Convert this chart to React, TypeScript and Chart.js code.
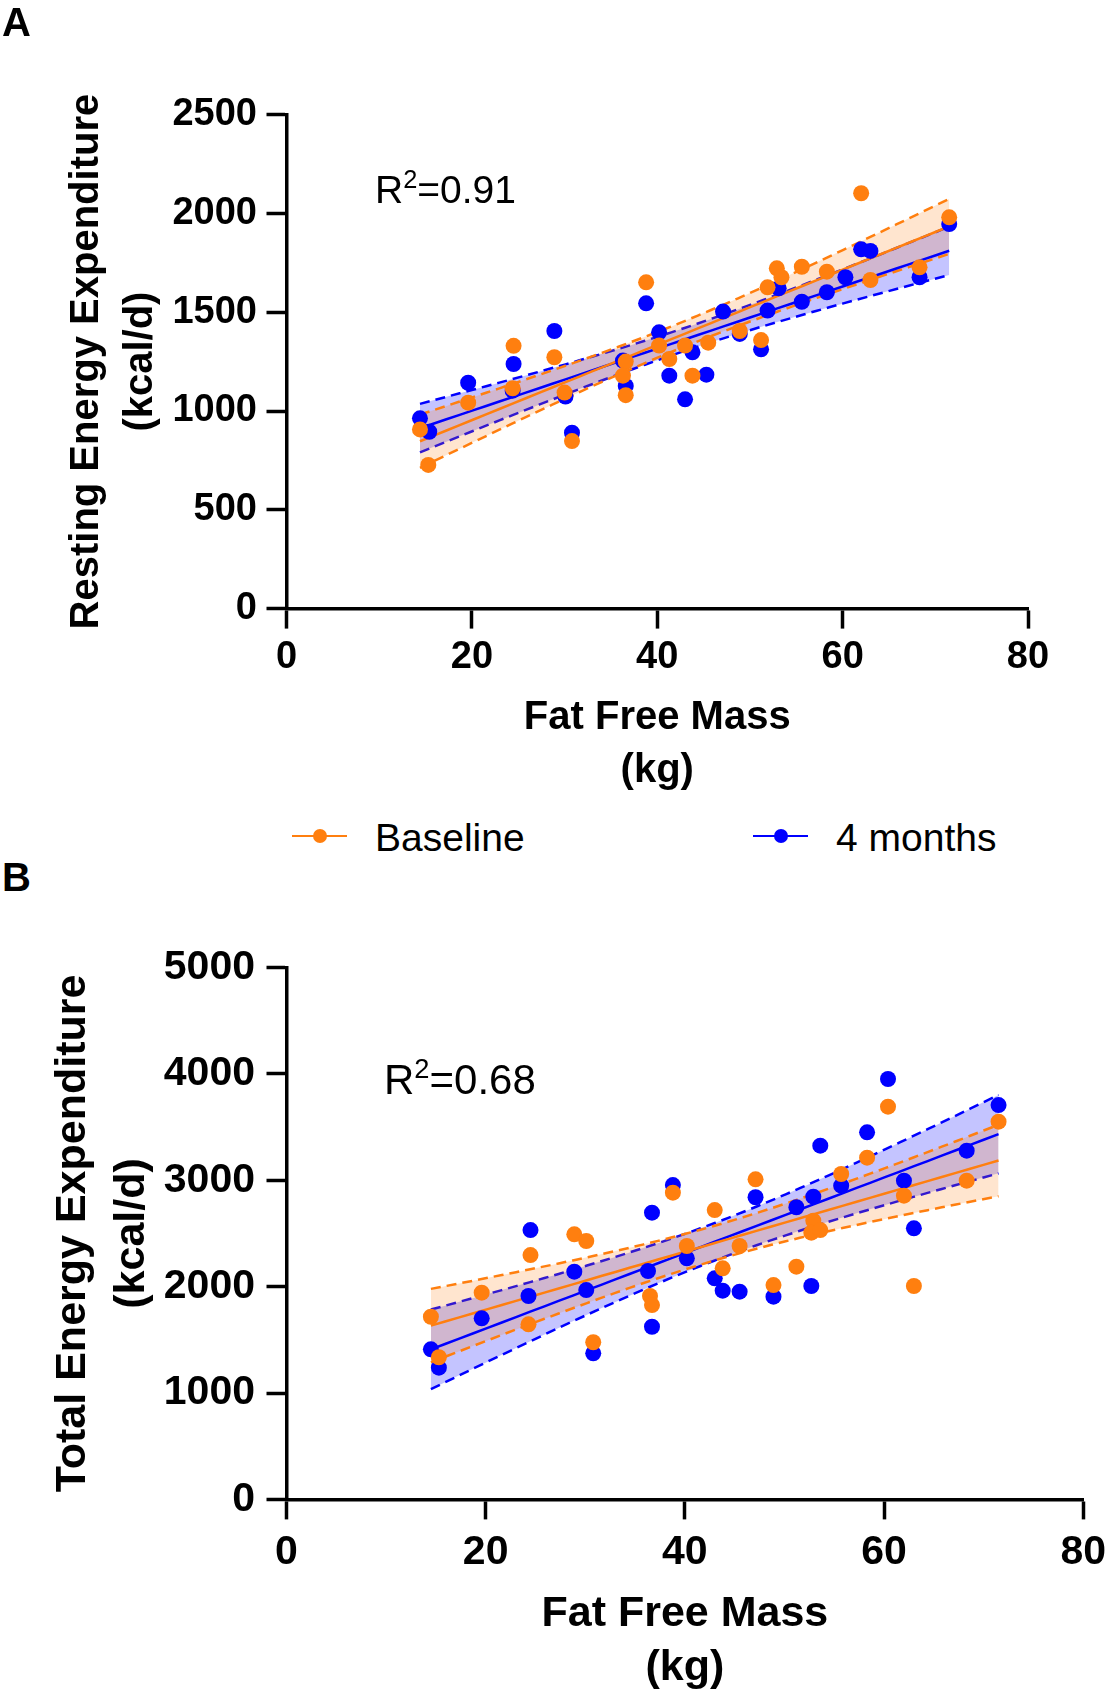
import React, { useEffect, useRef } from "react";
import { Chart, registerables } from "chart.js";

Chart.register(...registerables);

const FONT = '"Liberation Sans", Arial, Helvetica, sans-serif';
const ORANGE = "#FF7F0F";
const BLUE = "#0000FF";
const ORANGE_FILL = "rgba(255,127,15,0.2)";
const BLUE_FILL = "rgba(0,0,255,0.23)";
const T95 = 2.05;

// ---------- Panel A: Resting Energy Expenditure ----------
const reeBaselineFFM = [14.4, 15.3, 19.6, 24.5, 24.4, 28.9, 30.0, 30.8, 36.6, 36.3, 36.6, 38.8, 40.2, 41.3, 43.0, 43.8, 45.5, 48.9, 51.2, 51.9, 52.9, 53.4, 55.6, 58.3, 62.0, 63.0, 68.3, 71.5];
const reeBaselineValues = [907, 727, 1042, 1330, 1115, 1272, 1093, 848, 1250, 1179, 1080, 1651, 1331, 1263, 1331, 1179, 1346, 1405, 1359, 1626, 1722, 1677, 1730, 1705, 2102, 1663, 1727, 1980];
const reeMonth4FFM = [14.4, 15.4, 19.6, 24.5, 24.4, 28.9, 30.1, 30.8, 36.3, 36.6, 38.8, 40.2, 41.3, 43.0, 43.8, 45.3, 47.1, 48.9, 51.2, 51.9, 53.1, 55.6, 58.3, 60.3, 62.0, 63.0, 68.3, 71.5];
const reeMonth4Values = [963, 895, 1143, 1238, 1103, 1405, 1073, 890, 1255, 1127, 1545, 1398, 1179, 1059, 1297, 1184, 1503, 1390, 1312, 1508, 1621, 1553, 1601, 1677, 1818, 1810, 1677, 1946];
const reeYTicks = { min: 0, max: 2500, step: 500 };

// ---------- Panel B: Total Energy Expenditure ----------
const teeBaselineFFM = [14.5, 15.3, 19.6, 24.5, 24.3, 28.9, 30.1, 30.8, 36.5, 36.7, 38.8, 40.2, 43.0, 43.8, 45.5, 47.1, 48.9, 51.2, 52.9, 52.7, 53.6, 55.7, 58.3, 60.4, 62.0, 63.0, 68.3, 71.5];
const teeBaselineValues = [1717, 1336, 1943, 2297, 1646, 2492, 2429, 1477, 1912, 1827, 2883, 2382, 2720, 2172, 2382, 3009, 2015, 2188, 2620, 2507, 2532, 3059, 3212, 3692, 2855, 2006, 2996, 3551];
const teeMonth4FFM = [14.5, 15.3, 19.6, 24.5, 24.3, 28.9, 30.1, 30.8, 36.7, 36.3, 36.7, 38.8, 40.2, 43.0, 43.8, 45.5, 47.1, 48.9, 51.2, 52.7, 52.9, 53.6, 55.7, 58.3, 60.4, 62.0, 63.0, 68.3, 71.5];
const teeMonth4Values = [1411, 1238, 1702, 2532, 1912, 2141, 1968, 1373, 2695, 2147, 1623, 2955, 2266, 2078, 1962, 1953, 2840, 1906, 2746, 2006, 2846, 3325, 2949, 3451, 3952, 2996, 2548, 3278, 3707];
const teeYTicks = { min: 0, max: 5000, step: 1000 };

const xTicks = { min: 0, max: 80, step: 20 };
const seriesNames = ["Baseline", "4 months"];

type Pt = { x: number; y: number };

function toPoints(xs: number[], ys: number[]): Pt[] {
  return xs.map((x, i) => ({ x, y: ys[i] }));
}

function regression(xs: number[], ys: number[]) {
  const n = xs.length;
  const mx = xs.reduce((a, b) => a + b, 0) / n;
  const my = ys.reduce((a, b) => a + b, 0) / n;
  let sxx = 0, sxy = 0;
  for (let i = 0; i < n; i++) {
    sxx += (xs[i] - mx) ** 2;
    sxy += (xs[i] - mx) * (ys[i] - my);
  }
  const b = sxy / sxx;
  const a = my - b * mx;
  let sse = 0;
  for (let i = 0; i < n; i++) sse += (ys[i] - (a + b * xs[i])) ** 2;
  const s = Math.sqrt(sse / (n - 2));
  const xmin = Math.min(...xs), xmax = Math.max(...xs);
  const steps = 40;
  const line: Pt[] = [], upper: Pt[] = [], lower: Pt[] = [];
  for (let k = 0; k <= steps; k++) {
    const x = xmin + ((xmax - xmin) * k) / steps;
    const yh = a + b * x;
    const se = s * Math.sqrt(1 / n + (x - mx) ** 2 / sxx);
    line.push({ x, y: yh });
    upper.push({ x, y: yh + T95 * se });
    lower.push({ x, y: yh - T95 * se });
  }
  return { line, upper, lower };
}

function buildDatasets(bx: number[], by: number[], mx: number[], my: number[]) {
  const rb = regression(bx, by);
  const rm = regression(mx, my);
  const scatter = (label: string, data: Pt[], color: string) => ({
    label, data, showLine: false, pointRadius: 8, pointHoverRadius: 8,
    pointBackgroundColor: color, pointBorderWidth: 0, borderColor: color, backgroundColor: color,
  });
  const solid = (data: Pt[], color: string) => ({
    label: "fit", data, showLine: true, pointRadius: 0, borderColor: color, borderWidth: 2.5, fill: false,
  });
  const dashed = (data: Pt[], color: string, fill: any, fillColor: string) => ({
    label: "ci", data, showLine: true, pointRadius: 0, borderColor: color, borderWidth: 2.5,
    borderDash: [10, 6], fill, backgroundColor: fillColor,
  });
  return [
    scatter(seriesNames[0], toPoints(bx, by), ORANGE),
    scatter(seriesNames[1], toPoints(mx, my), BLUE),
    solid(rb.line, ORANGE),
    solid(rm.line, BLUE),
    dashed(rb.upper, ORANGE, "+1", ORANGE_FILL),
    dashed(rb.lower, ORANGE, false, ORANGE_FILL),
    dashed(rm.upper, BLUE, "+1", BLUE_FILL),
    dashed(rm.lower, BLUE, false, BLUE_FILL),
  ];
}

type PanelCfg = {
  width: number; height: number;
  padTop: number; padRight: number;
  yWidth: number; xHeight: number;
  yTicks: { min: number; max: number; step: number };
  yTitle: string[];
  tickFont: number; titleFont: number; yTitleLH: number; xTitleLH: number;
  yTitlePad: number; xTickPad: number; yTickPad: number;
  datasets: any[];
};

function Panel({ cfg, top }: { cfg: PanelCfg; top: number }) {
  const ref = useRef<HTMLCanvasElement | null>(null);
  useEffect(() => {
    if (!ref.current) return;
    const grid = { drawOnChartArea: false, drawTicks: true, tickLength: 20, tickWidth: 3.5, tickColor: "#000" };
    const border = { display: true, color: "#000", width: 3.5 };
    const plain = (v: any) => String(v);
    const chart = new Chart(ref.current, {
      type: "scatter",
      data: { datasets: cfg.datasets },
      options: {
        animation: false,
        responsive: false,
        devicePixelRatio: 1,
        layout: { padding: { top: cfg.padTop, right: cfg.padRight, bottom: 0, left: 0 } },
        plugins: { legend: { display: false }, tooltip: { enabled: false } },
        scales: {
          x: {
            type: "linear", min: xTicks.min, max: xTicks.max,
            ticks: { stepSize: xTicks.step, color: "#000", padding: cfg.xTickPad, callback: plain,
              font: { family: FONT, size: cfg.tickFont, weight: "bold" } },
            grid, border,
            title: { display: true, text: ["Fat Free Mass", "(kg)"], color: "#000", padding: { top: 0, bottom: 0 },
              font: { family: FONT, size: cfg.titleFont, weight: "bold", lineHeight: cfg.xTitleLH } },
            afterFit: (s: any) => { s.height = cfg.xHeight; },
          },
          y: {
            type: "linear", min: cfg.yTicks.min, max: cfg.yTicks.max,
            ticks: { stepSize: cfg.yTicks.step, color: "#000", padding: cfg.yTickPad, callback: plain,
              font: { family: FONT, size: cfg.tickFont, weight: "bold" } },
            grid, border,
            title: { display: true, text: cfg.yTitle, color: "#000", padding: { top: cfg.yTitlePad, bottom: 0 },
              font: { family: FONT, size: cfg.titleFont, weight: "bold", lineHeight: cfg.yTitleLH } },
            afterFit: (s: any) => { s.width = cfg.yWidth; },
          },
        },
      } as any,
    });
    return () => chart.destroy();
  }, []);
  return (
    <canvas ref={ref} width={cfg.width} height={cfg.height}
      style={{ position: "absolute", left: 0, top, width: cfg.width, height: cfg.height, display: "block" }} />
  );
}

const panelA: PanelCfg = {
  width: 1160, height: 797, padTop: 114.6, padRight: 1160 - 1028, yWidth: 286.5, xHeight: 188.4,
  yTicks: reeYTicks, yTitle: ["Resting Energy Expenditure", "(kcal/d)"],
  tickFont: 38, titleFont: 40, yTitleLH: 1.35, xTitleLH: 1.32, yTitlePad: 59.5, xTickPad: 6, yTickPad: 9.5,
  datasets: buildDatasets(reeBaselineFFM, reeBaselineValues, reeMonth4FFM, reeMonth4Values),
};

const panelB: PanelCfg = {
  width: 1160, height: 795, padTop: 67.5, padRight: 1160 - 1083.2, yWidth: 286.5, xHeight: 195.6,
  yTicks: teeYTicks, yTitle: ["Total Energy Expenditure", "(kcal/d)"],
  tickFont: 41, titleFont: 43, yTitleLH: 1.36, xTitleLH: 1.26, yTitlePad: 44.2, xTickPad: 9, yTickPad: 11.5,
  datasets: buildDatasets(teeBaselineFFM, teeBaselineValues, teeMonth4FFM, teeMonth4Values),
};

const txt = (left: number, top: number, size: number, weight: number | string): React.CSSProperties => ({
  position: "absolute", left, top, fontFamily: FONT, fontSize: size, fontWeight: weight as any,
  lineHeight: 1, color: "#000", whiteSpace: "nowrap",
});

function LegendItem({ x, y, color, label, textLeft }: { x: number; y: number; color: string; label: string; textLeft: number }) {
  return (
    <>
      <div style={{ position: "absolute", left: x, top: y - 1.25, width: 55, height: 2.5, background: color }} />
      <div style={{ position: "absolute", left: x + 27.5 - 7, top: y - 7, width: 14, height: 14, borderRadius: "50%", background: color }} />
      <div style={txt(textLeft, y - 18.4, 39, 400)}>{label}</div>
    </>
  );
}

function Sup({ children }: { children: React.ReactNode }) {
  return <span style={{ fontSize: "0.65em", position: "relative", top: "-0.6em" }}>{children}</span>;
}

export default function App() {
  return (
    <div style={{ position: "absolute", left: 0, top: 0, width: 1107, height: 1695, overflow: "hidden", background: "#fff" }}>
      <Panel cfg={panelA} top={0} />
      <Panel cfg={panelB} top={900} />
      <div style={txt(2, 2, 40, 700)}>A</div>
      <div style={txt(2, 857, 40, 700)}>B</div>
      <div style={txt(375, 170, 39, 400)}>R<Sup>2</Sup>=0.91</div>
      <div style={txt(384, 1059, 42, 400)}>R<Sup>2</Sup>=0.68</div>
      <LegendItem x={292} y={836} color={ORANGE} label={seriesNames[0]} textLeft={375} />
      <LegendItem x={753} y={836} color={BLUE} label={seriesNames[1]} textLeft={836} />
    </div>
  );
}
